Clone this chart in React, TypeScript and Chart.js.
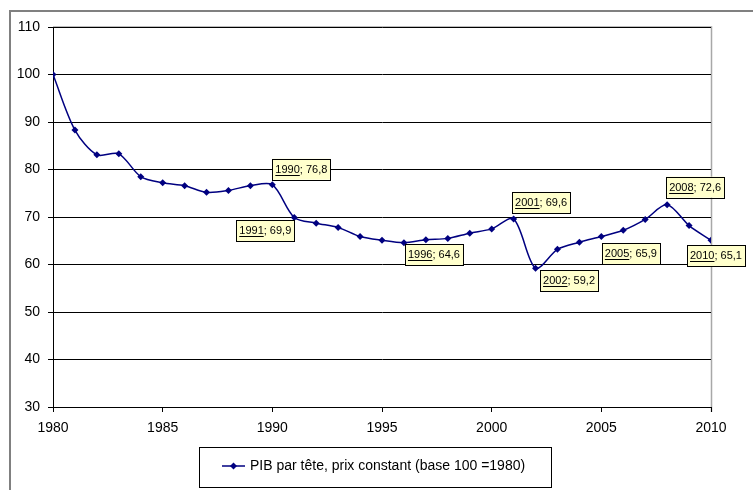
import React, { useEffect, useRef } from "react";
import { Chart, registerables } from "chart.js";

Chart.register(...registerables);

const years: number[] = [
  1980, 1981, 1982, 1983, 1984, 1985, 1986, 1987, 1988, 1989,
  1990, 1991, 1992, 1993, 1994, 1995, 1996, 1997, 1998, 1999,
  2000, 2001, 2002, 2003, 2004, 2005, 2006, 2007, 2008, 2009, 2010,
];

const values: number[] = [
  100, 88.3, 83.1, 83.3, 78.5, 77.2, 76.6, 75.2, 75.6, 76.6,
  76.8, 69.9, 68.7, 67.8, 65.9, 65.1, 64.6, 65.2, 65.5, 66.6,
  67.5, 69.6, 59.2, 63.2, 64.7, 65.9, 67.2, 69.5, 72.6, 68.2, 65.1,
];

const xTicks: number[] = [1980, 1985, 1990, 1995, 2000, 2005, 2010];
const seriesLabel = "PIB par tête, prix constant (base 100 =1980)";

const annotatedYears: number[] = [1990, 1991, 1996, 2001, 2002, 2005, 2008, 2010];

// Label box placement relative to the point (style only)
const labelPlacement: Record<number, { align: "left" | "right"; dx: number; dy: number }> = {
  1990: { align: "left", dx: 0, dy: -26 },
  1991: { align: "right", dx: 0, dy: 2.5 },
  1996: { align: "left", dx: 1, dy: 1.5 },
  2001: { align: "left", dx: -1.5, dy: -27 },
  2002: { align: "left", dx: 4.5, dy: 2 },
  2005: { align: "left", dx: 0.5, dy: 6.5 },
  2008: { align: "left", dx: -1, dy: -28 },
  2010: { align: "left", dx: -24, dy: 5 },
};

const FONT = '"Liberation Sans", Arial, sans-serif';
const LINE_COLOR = "#000080";

const decorPlugin = {
  id: "decor",
  beforeDraw(chart: any) {
    const { ctx, chartArea } = chart;
    ctx.save();
    // outer frame
    ctx.strokeStyle = "#808080";
    ctx.lineWidth = 2;
    ctx.beginPath();
    ctx.moveTo(10, 490);
    ctx.lineTo(10, 11);
    ctx.lineTo(753, 11);
    ctx.stroke();
    // plot area border (gray)
    ctx.strokeStyle = "#a8a8a8";
    ctx.lineWidth = 1.5;
    ctx.beginPath();
    ctx.moveTo(chartArea.left, chartArea.top);
    ctx.lineTo(chartArea.right + 0.5, chartArea.top);
    ctx.lineTo(chartArea.right + 0.5, chartArea.bottom + 5);
    ctx.stroke();
    ctx.restore();
  },
  afterDraw(chart: any) {
    const { ctx } = chart;
    const meta = chart.getDatasetMeta(0);
    ctx.save();
    // annotation labels
    ctx.font = `11px ${FONT}`;
    ctx.textBaseline = "middle";
    annotatedYears.forEach((yr) => {
      const idx = years.indexOf(yr);
      if (idx < 0) return;
      const pt = meta.data[idx];
      const p = labelPlacement[yr];
      const yearTxt = String(yr);
      const rest = "; " + values[idx].toFixed(1).replace(".", ",");
      const wYear = ctx.measureText(yearTxt).width;
      const wRest = ctx.measureText(rest).width;
      const padX = 3;
      const w = wYear + wRest + padX * 2;
      const h = 21;
      const left = p.align === "left" ? pt.x + p.dx : pt.x + p.dx - w;
      const top = pt.y + p.dy;
      ctx.fillStyle = "#FFFFCC";
      ctx.fillRect(left, top, w, h);
      ctx.strokeStyle = "#000";
      ctx.lineWidth = 1;
      ctx.strokeRect(Math.round(left) + 0.5, Math.round(top) + 0.5, Math.round(w), Math.round(h));
      ctx.fillStyle = "#000";
      ctx.textAlign = "left";
      const ty = top + h / 2 + 0.5;
      ctx.fillText(yearTxt, left + padX, ty);
      ctx.fillText(rest, left + padX + wYear, ty);
      ctx.beginPath();
      ctx.moveTo(left + padX, Math.round(ty + 5) + 0.5);
      ctx.lineTo(left + padX + wYear, Math.round(ty + 5) + 0.5);
      ctx.stroke();
    });

    // legend
    const lx = 199, ly = 447, lw = 352, lh = 40;
    ctx.fillStyle = "#fff";
    ctx.fillRect(lx, ly, lw, lh);
    ctx.strokeStyle = "#000";
    ctx.lineWidth = 1;
    ctx.strokeRect(lx + 0.5, ly + 0.5, lw, lh);
    const cy = ly + lh / 2 - 1;
    ctx.strokeStyle = LINE_COLOR;
    ctx.lineWidth = 1.5;
    ctx.beginPath();
    ctx.moveTo(222, cy);
    ctx.lineTo(245, cy);
    ctx.stroke();
    ctx.fillStyle = LINE_COLOR;
    ctx.beginPath();
    const r = 3.5;
    ctx.moveTo(233.5, cy - r);
    ctx.lineTo(233.5 + r, cy);
    ctx.lineTo(233.5, cy + r);
    ctx.lineTo(233.5 - r, cy);
    ctx.closePath();
    ctx.fill();
    ctx.fillStyle = "#000";
    ctx.font = `14px ${FONT}`;
    ctx.textAlign = "left";
    ctx.textBaseline = "middle";
    ctx.fillText(seriesLabel, 250, cy);
    ctx.restore();
  },
};

export default function App() {
  const ref = useRef<HTMLCanvasElement | null>(null);
  useEffect(() => {
    if (!ref.current) return;
    const chart = new Chart(ref.current, {
      type: "line",
      data: {
        datasets: [
          {
            label: seriesLabel,
            data: years.map((y, i) => ({ x: y, y: values[i] })),
            borderColor: LINE_COLOR,
            backgroundColor: LINE_COLOR,
            borderWidth: 1.5,
            pointStyle: "rectRot",
            pointRadius: 3.5,
            pointBackgroundColor: LINE_COLOR,
            pointBorderColor: LINE_COLOR,
            pointBorderWidth: 0,
            tension: 0.3,
            fill: false,
          },
        ],
      },
      options: {
        responsive: false,
        animation: false,
        layout: { padding: { left: 0, top: 27, right: 42, bottom: 0 } },
        plugins: {
          legend: { display: false },
          tooltip: { enabled: false },
        },
        scales: {
          x: {
            type: "linear",
            min: 1980,
            max: 2010,
            afterBuildTicks: (s: any) => {
              s.ticks = xTicks.map((v) => ({ value: v }));
            },
            afterFit: (s: any) => {
              s.height = 83;
            },
            ticks: {
              callback: (v: any) => String(v),
              color: "#000",
              font: { family: FONT, size: 14 },
              padding: 8,
              maxRotation: 0,
              autoSkip: false,
            },
            grid: {
              drawOnChartArea: false,
              drawTicks: true,
              tickLength: 5,
              color: "#000",
            },
            border: { color: "#000", width: 1 },
          },
          y: {
            min: 30,
            max: 110,
            afterFit: (s: any) => {
              s.width = 53;
            },
            ticks: {
              stepSize: 10,
              color: "#000",
              font: { family: FONT, size: 14 },
              padding: 8,
            },
            grid: {
              color: "#000",
              lineWidth: 1,
              tickLength: 5,
            },
            border: { color: "#000", width: 1 },
          },
        },
      },
      plugins: [decorPlugin],
    });
    return () => chart.destroy();
  }, []);
  return (
    <div style={{ position: "absolute", left: 0, top: 0, width: 753, height: 490, background: "#fff" }}>
      <canvas ref={ref} width={753} height={490} style={{ display: "block", width: 753, height: 490 }} />
    </div>
  );
}
